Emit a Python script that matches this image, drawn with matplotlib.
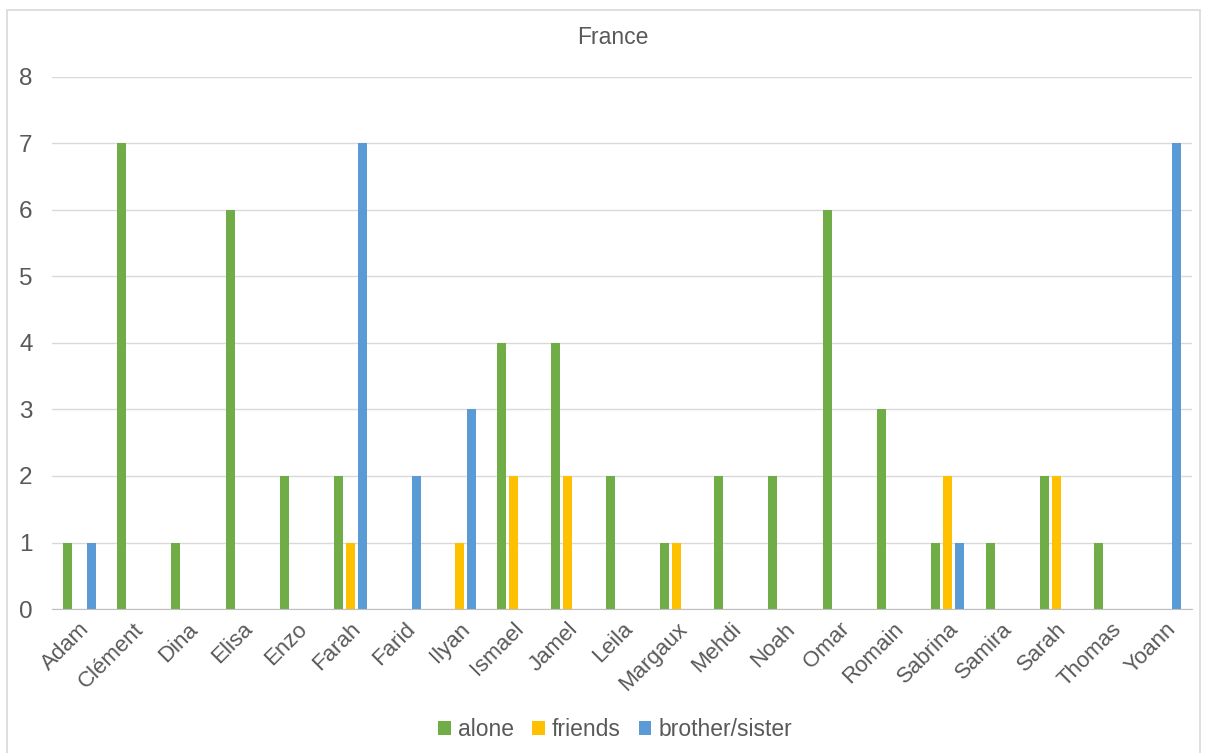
import matplotlib
matplotlib.use("Agg")
import matplotlib.pyplot as plt
from matplotlib.patches import Rectangle
import numpy as np

names = ["Adam", "Clément", "Dina", "Elisa", "Enzo", "Farah", "Farid", "Ilyan",
         "Ismael", "Jamel", "Leila", "Margaux", "Mehdi", "Noah", "Omar", "Romain",
         "Sabrina", "Samira", "Sarah", "Thomas", "Yoann"]
alone = [1, 7, 1, 6, 2, 2, 0, 0, 4, 4, 2, 1, 2, 2, 6, 3, 1, 1, 2, 1, 0]
friends = [0, 0, 0, 0, 0, 1, 0, 1, 2, 2, 0, 1, 0, 0, 0, 0, 2, 0, 2, 0, 0]
brother_sister = [1, 0, 0, 0, 0, 7, 2, 3, 0, 0, 0, 0, 0, 0, 0, 0, 1, 0, 0, 0, 7]
series_labels = ["alone", "friends", "brother/sister"]
title = "France"

plt.rcParams['font.family'] = ['Liberation Sans', 'DejaVu Sans']
txt = "#595959"

fig = plt.figure(figsize=(12.06, 7.53), dpi=100)
fig.patches.append(Rectangle((7/1206, -0.1), (1200-7)/1206, 1.1 - 10/753,
                             transform=fig.transFigure, fill=False,
                             edgecolor="#D9D9D9", linewidth=1.2))
ax = fig.add_axes([52/1206, 1 - 609/753, (1192-52)/1206, (609-77)/753])

x = np.arange(len(names))
w = 0.166
off = 0.22
colors = ["#70AD47", "#FFC000", "#5B9BD5"]
for i, (vals, lab) in enumerate(zip([alone, friends, brother_sister], series_labels)):
    ax.bar(x + (i - 1) * off, vals, width=w, color=colors[i], label=lab, zorder=3)

ax.set_xlim(-0.5, len(names) - 0.5)
ax.set_ylim(0, 8)
ax.set_yticks(range(0, 9))
ax.grid(axis="y", color="#D9D9D9", linewidth=1, zorder=0)
for s in ["top", "right", "left"]:
    ax.spines[s].set_visible(False)
ax.spines["bottom"].set_color("#BFBFBF")
ax.spines["bottom"].set_zorder(4)
ax.tick_params(axis="both", length=0, colors=txt)
ax.tick_params(axis="y", labelsize=17.5, pad=14)
ax.set_xticks(x)
ax.set_xticklabels(names, rotation=45, ha="right", rotation_mode="anchor",
                   fontsize=16, color=txt)
ax.tick_params(axis="x", pad=7)
for lbl in ax.get_yticklabels():
    lbl.set_color(txt)

fig.text(613/1206, 1 - 37/753, title, ha="center", va="center", fontsize=16.5, color=txt)

leg = fig.legend(loc="center", bbox_to_anchor=(615/1206, 1 - 730/753), ncol=3,
                 frameon=False, fontsize=16.5, handlelength=0.55, handleheight=0.55,
                 handletextpad=0.3, columnspacing=0.8, labelcolor=txt)

fig.savefig("out.png", dpi=100)
